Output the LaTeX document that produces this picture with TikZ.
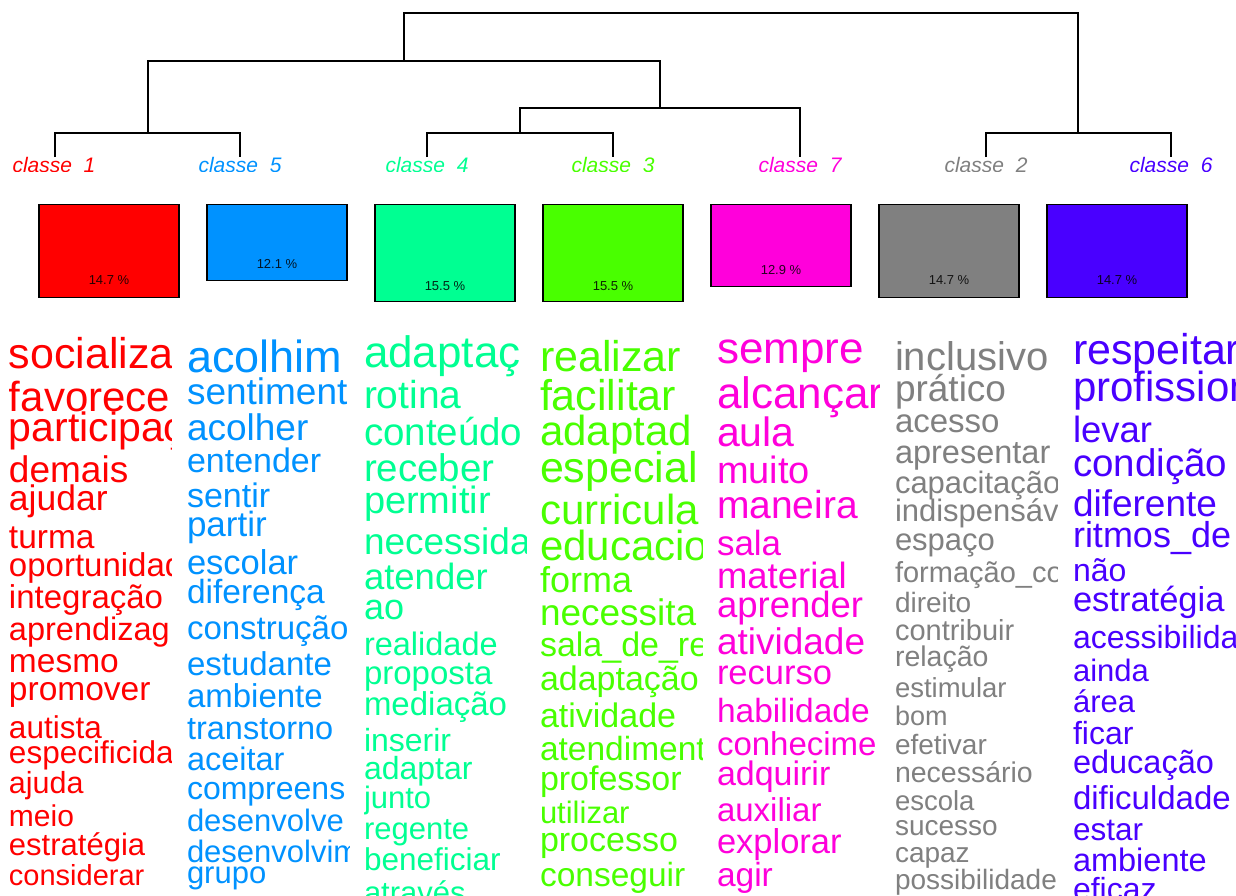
\documentclass[tikz,border=0pt]{standalone}
\usepackage{fontspec}
\setmainfont{Liberation Sans}
\definecolor{c1}{HTML}{FF0000}
\definecolor{c2}{HTML}{808080}
\definecolor{c3}{HTML}{49FF00}
\definecolor{c4}{HTML}{00FF92}
\definecolor{c5}{HTML}{0092FF}
\definecolor{c6}{HTML}{4900FF}
\definecolor{c7}{HTML}{FF00DB}
\tikzset{
  word/.style={anchor=base west, inner sep=0pt, outer sep=0pt},
  dendro/.style={line width=1.3pt, black},
  clsbox/.style={draw=black, line width=1.2pt, minimum width=140pt, anchor=north, inner sep=0pt},
  pct/.style={anchor=base, inner sep=0pt, text=black, text opacity=0.85, font=\fontsize{13}{13}\selectfont},
  clabel/.style={anchor=base, inner sep=0pt, font=\fontsize{21}{21}\selectfont\itshape},
}
\newcommand\wordcol[4]{%
  \begin{scope}
    \clip (#2,320) rectangle (#2+162,895);
    \foreach \yy/\ss/\ww [count=\k] in {#4} {
      \node[word, text=#3, font=\fontsize{\ss}{\ss}\selectfont] (#1-\k) at (#2,\yy) {\ww};
    }
  \end{scope}}
\begin{document}
\begin{tikzpicture}[x=1pt, y=-1pt]
\fill[white] (0,0) rectangle (1236,895);
\useasboundingbox (0,0) rectangle (1236,895);
% dendrogram
\coordinate (L1) at (55,157);
\coordinate (L5) at (240,157);
\coordinate (L4) at (427,157);
\coordinate (L3) at (613,157);
\coordinate (L7) at (800,157);
\coordinate (L2) at (986,157);
\coordinate (L6) at (1171,157);
\coordinate (A) at (148,133);
\coordinate (B) at (520,133);
\coordinate (C) at (660,108);
\coordinate (D) at (404,61);
\coordinate (E) at (1078,133);
\coordinate (R) at (741,13);
\draw[dendro] (L1) |- (A) -| (L5);
\draw[dendro] (L4) |- (B) -| (L3);
\draw[dendro] (B) |- (C) -| (L7);
\draw[dendro] (A) |- (D) -| (C);
\draw[dendro] (L2) |- (E) -| (L6);
\draw[dendro] (D) |- (R) -| (E);
% labels
\begin{scope}
  \clip (0,140) rectangle (1236,171.5);
  \node[clabel, text=c1] (t1) at (54,172) {classe\_1};
  \node[clabel, text=c5] (t5) at (240,172) {classe\_5};
  \node[clabel, text=c4] (t4) at (427,172) {classe\_4};
  \node[clabel, text=c3] (t3) at (613,172) {classe\_3};
  \node[clabel, text=c7] (t7) at (800,172) {classe\_7};
  \node[clabel, text=c2] (t2) at (986,172) {classe\_2};
  \node[clabel, text=c6] (t6) at (1171,172) {classe\_6};
\end{scope}
% boxes
\node[clsbox, fill=c1, minimum height=92.5pt] (b1) at (109,204) {};
\node[clsbox, fill=c5, minimum height=76pt] (b5) at (277,204) {};
\node[clsbox, fill=c4, minimum height=97pt] (b4) at (445,204) {};
\node[clsbox, fill=c3, minimum height=97pt] (b3) at (613,204) {};
\node[clsbox, fill=c7, minimum height=82pt] (b7) at (781,204) {};
\node[clsbox, fill=c2, minimum height=92.5pt] (b2) at (949,204) {};
\node[clsbox, fill=c6, minimum height=92.5pt] (b6) at (1117,204) {};
\node[pct] (p1) at ([yshift=13pt]b1.south) {14.7 \%};
\node[pct] (p5) at ([yshift=13pt]b5.south) {12.1 \%};
\node[pct] (p4) at ([yshift=12pt]b4.south) {15.5 \%};
\node[pct] (p3) at ([yshift=12pt]b3.south) {15.5 \%};
\node[pct] (p7) at ([yshift=13pt]b7.south) {12.9 \%};
\node[pct] (p2) at ([yshift=13pt]b2.south) {14.7 \%};
\node[pct] (p6) at ([yshift=13pt]b6.south) {14.7 \%};
% word columns
\wordcol{w1}{9}{c1}{368/43/socializa, 411/42/favorece, 441/41/participaç, 482/37/demais, 510/35.5/ajudar, 548/33.5/turma, 576/33/oportunidad, 608/33/integração, 640/32.5/aprendizag, 672/33.5/mesmo, 700/33.5/promover, 738/31.5/autista, 763/31.5/especificida, 793/30.5/ajuda, 826/30/meio, 855/31/estratégia, 885/29/considerar}
\wordcol{w5}{187}{c5}{372/45/acolhim, 404/37/sentiment, 440/37/acolher, 472/34/entender, 507/34/sentir, 536/35/partir, 574/34.5/escolar, 603/33.5/diferença, 639/33/construção, 675/33/estudante, 707/33/ambiente, 739/32.5/transtorno, 770/32.5/aceitar, 799/32/compreens, 831/31/desenvolve, 862/31/desenvolvim, 883/31/grupo}
\wordcol{w4}{364}{c4}{367/44/adaptaç, 408/39/rotina, 445/38.5/conteúdo, 481/38.5/receber, 513/38/permitir, 554/37/necessida, 589/36.5/atender, 619/36/ao, 655/32.5/realidade, 684/33/proposta, 715/33/mediação, 751/32/inserir, 779/32/adaptar, 808/31/junto, 839/31/regente, 870/31.5/beneficiar, 903/31/através}
\wordcol{w3}{540}{c3}{371/43/realizar, 410/43/facilitar, 445/42/adaptad, 482/43/especial, 524/42/curricula, 560/42/educacio, 592/36/forma, 625/37/necessita, 656/34/sala\_de\_re, 690/34/adaptação, 727/34/atividade, 760/33.5/atendiment, 790/34/professor, 823/31/utilizar, 851/34/processo, 886/33.5/conseguir}
\wordcol{w7}{717}{c7}{363/44/sempre, 408/44/alcançar, 446/41/aula, 483/38/muito, 518/39/maneira, 555/35/sala, 588/36.5/material, 617/36.5/aprender, 654/37/atividade, 684/34.5/recurso, 722/33.5/habilidade, 755/33/conhecime, 785/34/adquirir, 821/33/auxiliar, 853/34.5/explorar, 886/33.5/agir}
\wordcol{w2}{895}{c2}{370/40/inclusivo, 401/37/prático, 432/33/acesso, 463/32.5/apresentar, 493/31/capacitação, 521/31/indispensáv, 550/31/espaço, 582/29/formação\_co, 612/28/direito, 640/29/contribuir, 666/28.5/relação, 697/27.5/estimular, 725/27/bom, 754/28/efetivar, 782/28.5/necessário, 810/27.5/escola, 835/28/sucesso, 862/28/capaz, 889/28/possibilidade}
\wordcol{w6}{1073}{c6}{364/43/respeitar, 401/42/profission, 442/36.5/levar, 476/38.5/condição, 516/37/diferente, 547/36/ritmos\_de, 581/32/não, 611/34.5/estratégia, 648/32/acessibilida, 681/31/ainda, 712/31/área, 744/32/ficar, 773/32.5/educação, 809/33/dificuldade, 840/31.5/estar, 871/32.5/ambiente, 900/32/eficaz}
\end{tikzpicture}
\end{document}
